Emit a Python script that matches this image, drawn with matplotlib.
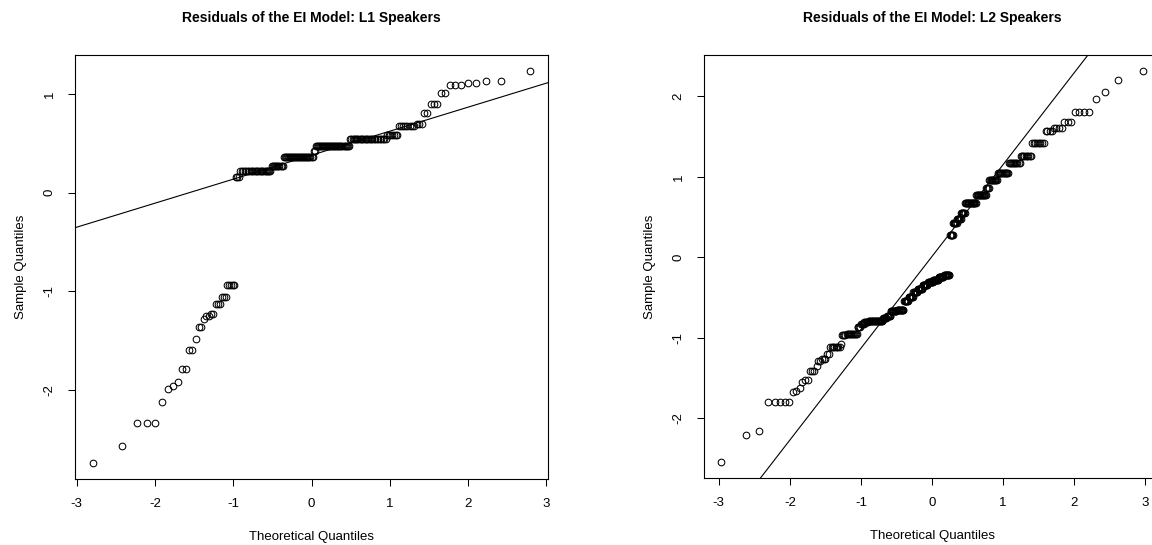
import numpy as np
import matplotlib
matplotlib.use("Agg")
import matplotlib.pyplot as plt
from statistics import NormalDist

plt.rcParams['font.family'] = ['Liberation Sans', 'DejaVu Sans']
plt.rcParams['axes.unicode_minus'] = False

# residuals, stored as sorted values with how many times each occurs
l1_values = [-2.742, -2.570, -2.336, -2.117, -1.993, -1.963, -1.919, -1.789, -1.597,
             -1.483, -1.359, -1.275, -1.245, -1.228, -1.124, -1.054, -0.936,
             0.160, 0.216, 0.275, 0.360, 0.420, 0.470, 0.544, 0.585, 0.680, 0.700,
             0.810, 0.900, 1.006, 1.090, 1.110, 1.130, 1.236]
l1_counts = [1, 1, 3, 1, 1, 1, 1, 2, 2,
             1, 2, 1, 2, 2, 3, 3, 5,
             3, 24, 11, 29, 2, 33, 28, 7, 8, 3,
             2, 3, 2, 3, 2, 2, 1]

l2_values = [-2.55, -2.21, -2.16, -1.80, -1.68, -1.66, -1.63, -1.55, -1.53, -1.42,
             -1.35, -1.29, -1.26, -1.20, -1.12, -1.08,
             -0.97, -0.955, -0.87, -0.83, -0.80, -0.79, -0.76, -0.73, -0.67, -0.65,
             -0.55, -0.50, -0.43, -0.39, -0.35, -0.31, -0.28, -0.25, -0.22,
             0.28, 0.43, 0.47, 0.55, 0.67, 0.78, 0.86, 0.96, 1.05, 1.17, 1.26, 1.42,
             1.57, 1.61, 1.68, 1.80, 1.97, 2.06, 2.20, 2.32]
l2_counts = [1, 1, 1, 5, 1, 1, 1, 1, 2, 3,
             1, 2, 3, 2, 8, 1,
             4, 11, 4, 4, 5, 20, 6, 6, 10, 12,
             8, 9, 8, 9, 10, 10, 10, 10, 11,
             6, 7, 7, 7, 18, 15, 4, 11, 13, 11, 9, 8,
             4, 4, 3, 4, 1, 1, 1, 1]

titles = ["Residuals of the EI Model: L1 Speakers",
          "Residuals of the EI Model: L2 Speakers"]
x_ticks = [-3, -2, -1, 0, 1, 2, 3]
y_ticks = [[-2, -1, 0, 1], [-2, -1, 0, 1, 2]]

norm = NormalDist()


def qq_panel(ax, values, counts, title, yticks):
    sample = np.repeat(values, counts)
    n = len(sample)
    theo = np.array([norm.inv_cdf((i - 0.5) / n) for i in range(1, n + 1)])
    ax.plot(theo, sample, 'o', mfc='none', mec='black', ms=4.8, mew=0.75)

    # reference line through the first and third quartiles
    q1, q3 = np.quantile(sample, [0.25, 0.75])
    z1, z3 = norm.inv_cdf(0.25), norm.inv_cdf(0.75)
    slope = (q3 - q1) / (z3 - z1)
    intercept = q1 - slope * z1
    ax.axline((0, intercept), slope=slope, color='black', lw=0.8)

    ax.margins(0.04)
    ax.set_xticks(x_ticks)
    ax.set_yticks(yticks)
    ax.set_yticklabels([str(t) for t in yticks], rotation=90, va='center')
    ax.tick_params(direction='out', length=5, width=0.75, labelsize=9.5, pad=9)
    for s in ax.spines.values():
        s.set_linewidth(0.8)
    ax.set_title(title, fontweight='bold', fontsize=10, pad=24)
    ax.set_xlabel("Theoretical Quantiles", fontsize=9.5, labelpad=15)
    ax.set_ylabel("Sample Quantiles", fontsize=9.5, labelpad=12)


fig = plt.figure(figsize=(11.52, 5.45), dpi=100)
ax1 = fig.add_axes([75 / 1152, 66 / 545, 473 / 1152, 424 / 545])
ax2 = fig.add_axes([704 / 1152, 67 / 545, 456 / 1152, 423 / 545])

qq_panel(ax1, l1_values, l1_counts, titles[0], y_ticks[0])
qq_panel(ax2, l2_values, l2_counts, titles[1], y_ticks[1])

fig.savefig("out.png", dpi=100)
